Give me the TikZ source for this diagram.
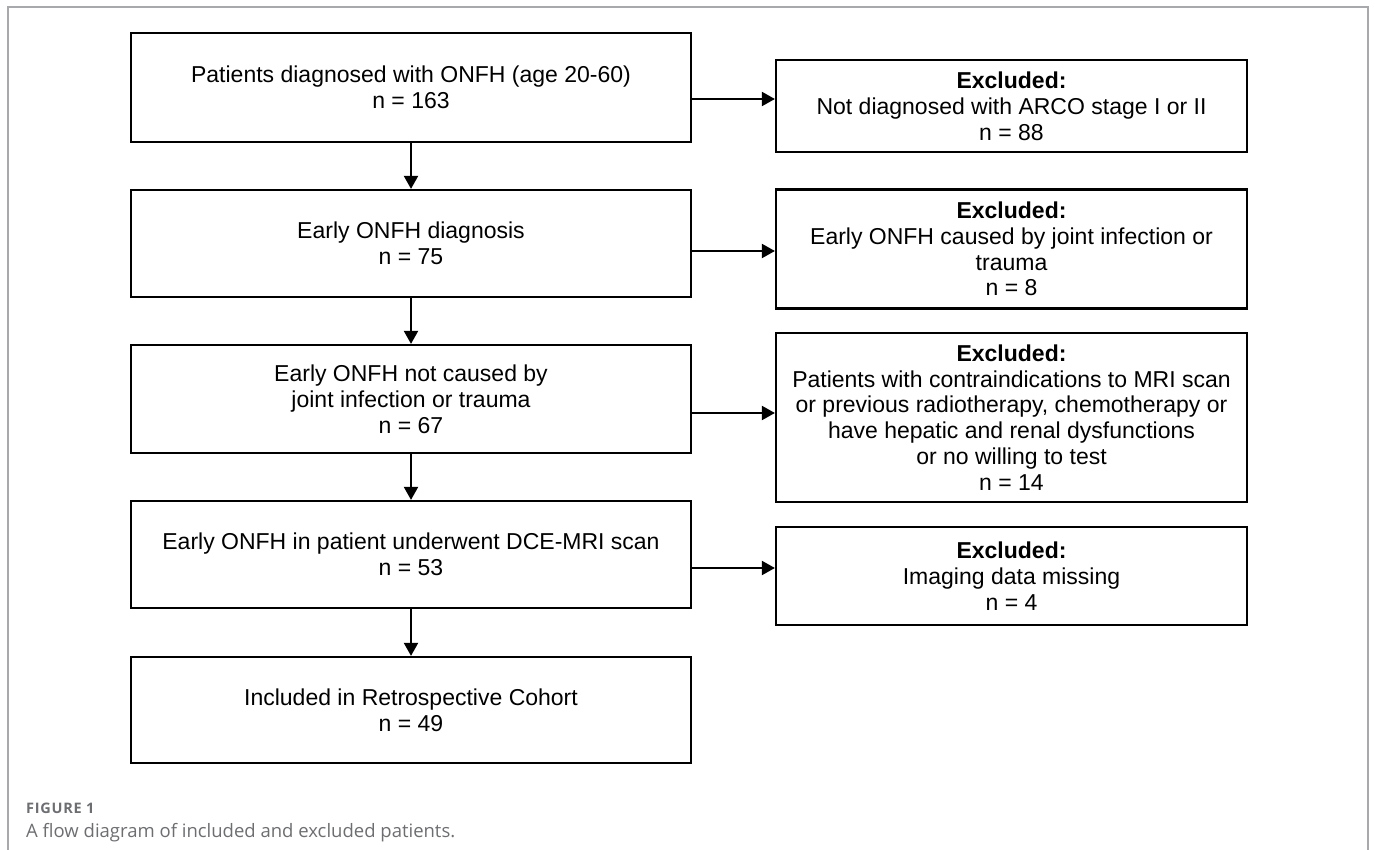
\documentclass[tikz,border=0pt]{standalone}
\usepackage{fontspec}
\setmainfont{Liberation Sans}
\newfontfamily\capfont{Open Sans}
\newfontfamily\figfont[LetterSpace=5]{Open Sans}
\usetikzlibrary{arrows.meta}
\definecolor{framegray}{HTML}{A7A9AC}
\definecolor{capgray}{HTML}{6D6E71}

\begin{document}
\begin{tikzpicture}[x=1pt, y=-1pt,
    box/.style={draw, line width=2.2pt, minimum width=560pt, inner sep=0pt, align=center, font=\fontsize{23}{25.8}\selectfont},
    exbox/.style={box, minimum width=471pt},
    arr/.style={-{Triangle[length=13pt, width=14pt]}, line width=2pt}]
    \useasboundingbox (0,0) rectangle (1375,850);
    \draw[framegray, line width=1.2pt] (8,850) -- (8,7) -- (1368,7) -- (1368,850);

    \node[box, minimum height=109pt] (A) at (411, 87.5) {Patients diagnosed with ONFH (age 20-60)\\n = 163};
    \node[box, minimum height=107pt] (B) at (411, 243.5) {Early ONFH diagnosis\\n = 75};
    \node[box, minimum height=108pt] (C) at (411, 399) {Early ONFH not caused by\\joint infection or trauma\\n = 67};
    \node[box, minimum height=107pt] (D) at (411, 554.5) {Early ONFH in patient underwent DCE-MRI scan\\n = 53};
    \node[box, minimum height=106pt] (E) at (411, 710) {Included in Retrospective Cohort\\n = 49};

    \node[exbox, minimum height=92pt] (X1) at (1011.5, 106) {\textbf{Excluded:}\\Not diagnosed with ARCO stage I or II\\n = 88};
    \node[exbox, minimum height=119pt] (X2) at (1011.5, 249) {\textbf{Excluded:}\\Early ONFH caused by joint infection or\\trauma\\n = 8};
    \node[exbox, minimum height=169pt] (X3) at (1011.5, 417.5) {\textbf{Excluded:}\\Patients with contraindications to MRI scan\\or previous radiotherapy, chemotherapy or\\have hepatic and renal dysfunctions\\or no willing to test\\n = 14};
    \node[exbox, minimum height=98pt] (X4) at (1011.5, 576) {\textbf{Excluded:}\\Imaging data missing\\n = 4};

    \node[anchor=base west, inner sep=0pt, text=capgray, font=\figfont\bfseries\fontsize{14.5}{17}\selectfont] (fig) at (26, 813) {FIGURE 1};
    \node[anchor=base west, inner sep=0pt, text=capgray, font=\capfont\fontsize{18.5}{22}\selectfont] (cap) at (26, 837) {A flow diagram of included and excluded patients.};

    % Arrows
    \draw[arr] (A) -- (B);
    \draw[arr] (B) -- (C);
    \draw[arr] (C) -- (D);
    \draw[arr] (D) -- (E);

    \draw[arr] ([yshift=-11.5pt]A.east) -- ([yshift=-11.5pt]A.east -| X1.west);
    \draw[arr] ([yshift=-7.5pt]B.east) -- ([yshift=-7.5pt]B.east -| X2.west);
    \draw[arr] ([yshift=-14pt]C.east) -- ([yshift=-14pt]C.east -| X3.west);
    \draw[arr] ([yshift=-13.5pt]D.east) -- ([yshift=-13.5pt]D.east -| X4.west);
\end{tikzpicture}
\end{document}
